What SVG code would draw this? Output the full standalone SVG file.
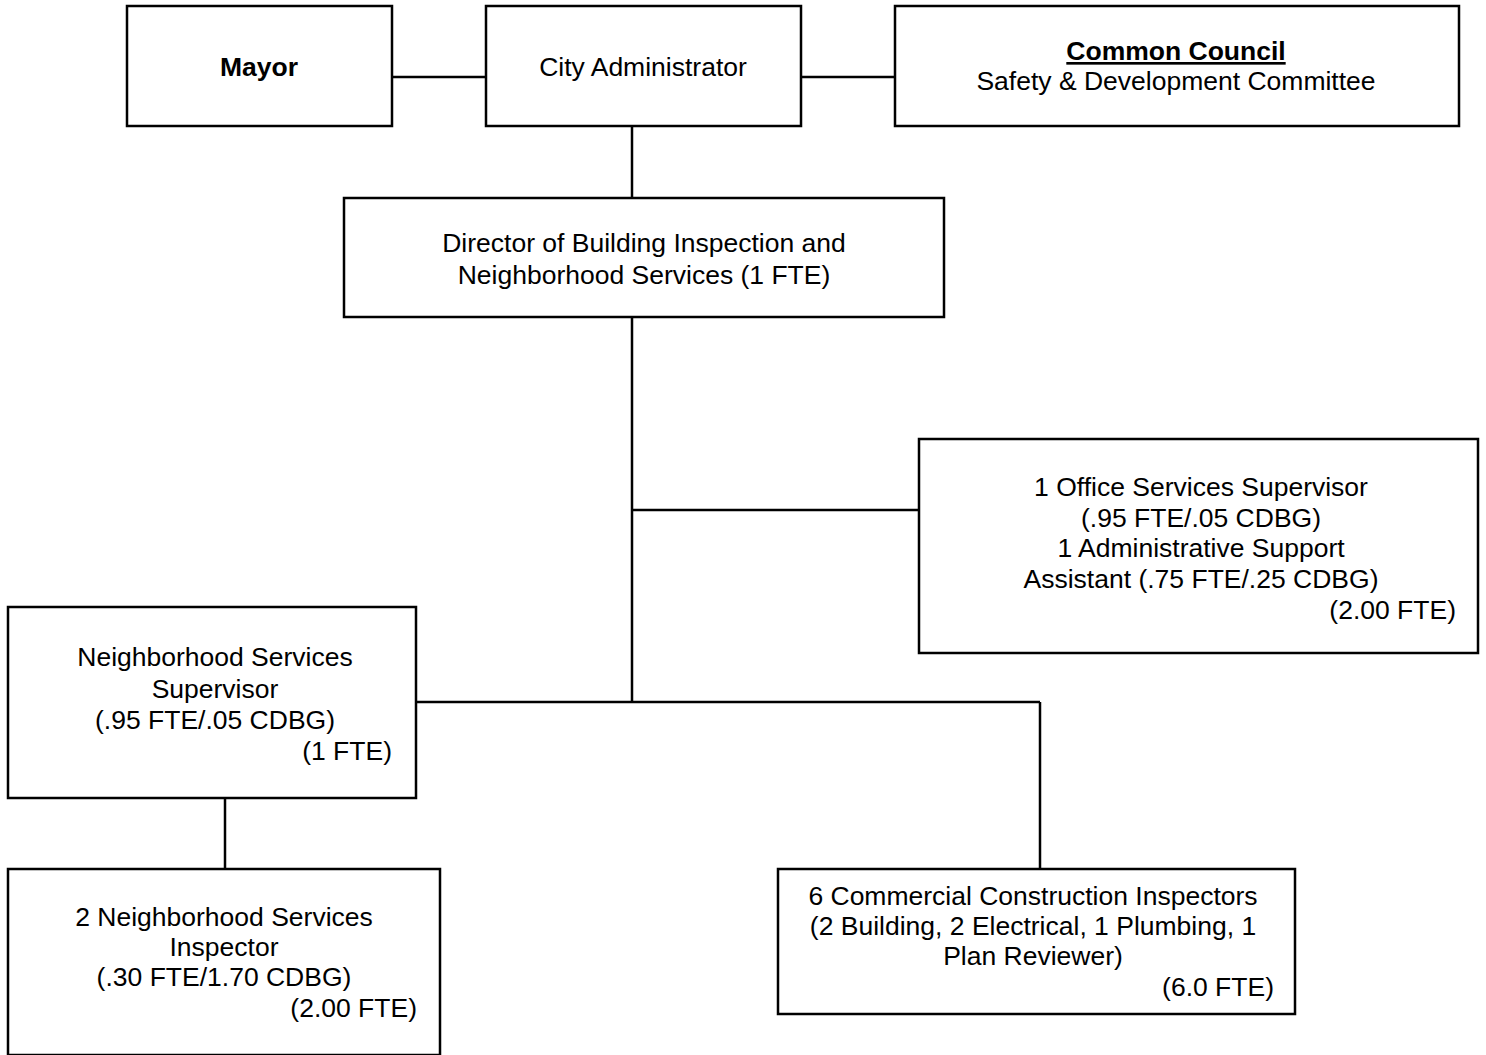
<svg xmlns="http://www.w3.org/2000/svg" width="1486" height="1055" viewBox="0 0 1486 1055">
<style>
.box{fill:#fff;stroke:#000;stroke-width:2.5}
.ln{stroke:#000;stroke-width:2.5;fill:none}
text{font-family:"Liberation Sans",Arial,sans-serif;font-size:26.5px;fill:#000}
.c{text-anchor:middle}
.r{text-anchor:end}
.b{font-weight:bold}
</style>
<rect width="1486" height="1055" fill="#fff"/>
<g id="connectors">
<line class="ln" x1="392" y1="77" x2="486" y2="77"/>
<line class="ln" x1="801" y1="77" x2="895" y2="77"/>
<line class="ln" x1="632" y1="126" x2="632" y2="198"/>
<line class="ln" x1="632" y1="317" x2="632" y2="702"/>
<line class="ln" x1="632" y1="510" x2="919" y2="510"/>
<line class="ln" x1="416" y1="702" x2="1040" y2="702"/>
<line class="ln" x1="1040" y1="702" x2="1040" y2="869"/>
<line class="ln" x1="225" y1="798" x2="225" y2="869"/>
</g>
<g id="mayor">
<rect class="box" x="127" y="6" width="265" height="120"/>
<text class="c b" x="259" y="76">Mayor</text>
</g>
<g id="city-administrator">
<rect class="box" x="486" y="6" width="315" height="120"/>
<text class="c" x="643" y="76">City Administrator</text>
</g>
<g id="common-council">
<rect class="box" x="895" y="6" width="564" height="120"/>
<text class="c b" x="1176" y="60" text-decoration="underline">Common Council</text>
<text class="c" x="1176" y="90">Safety &amp; Development Committee</text>
</g>
<g id="director">
<rect class="box" x="344" y="198" width="600" height="119"/>
<text class="c" x="644" y="252">Director of Building Inspection and</text>
<text class="c" x="644" y="284">Neighborhood Services (1 FTE)</text>
</g>
<g id="office-services">
<rect class="box" x="919" y="439" width="559" height="214"/>
<text class="c" x="1201" y="496">1 Office Services Supervisor</text>
<text class="c" x="1201" y="527">(.95 FTE/.05 CDBG)</text>
<text class="c" x="1201" y="557">1 Administrative Support</text>
<text class="c" x="1201" y="588">Assistant (.75 FTE/.25 CDBG)</text>
<text class="r" x="1456" y="619">(2.00 FTE)</text>
</g>
<g id="ns-supervisor">
<rect class="box" x="8" y="607" width="408" height="191"/>
<text class="c" x="215" y="666">Neighborhood Services</text>
<text class="c" x="215" y="698">Supervisor</text>
<text class="c" x="215" y="729">(.95 FTE/.05 CDBG)</text>
<text class="r" x="392" y="760">(1 FTE)</text>
</g>
<g id="ns-inspector">
<rect class="box" x="8" y="869" width="432" height="186"/>
<text class="c" x="224" y="926">2 Neighborhood Services</text>
<text class="c" x="224" y="956">Inspector</text>
<text class="c" x="224" y="986">(.30 FTE/1.70 CDBG)</text>
<text class="r" x="417" y="1017">(2.00 FTE)</text>
</g>
<g id="commercial-inspectors">
<rect class="box" x="778" y="869" width="517" height="145"/>
<text class="c" x="1033" y="905">6 Commercial Construction Inspectors</text>
<text class="c" x="1033" y="935">(2 Building, 2 Electrical, 1 Plumbing, 1</text>
<text class="c" x="1033" y="965">Plan Reviewer)</text>
<text class="r" x="1274" y="996">(6.0 FTE)</text>
</g>
</svg>
